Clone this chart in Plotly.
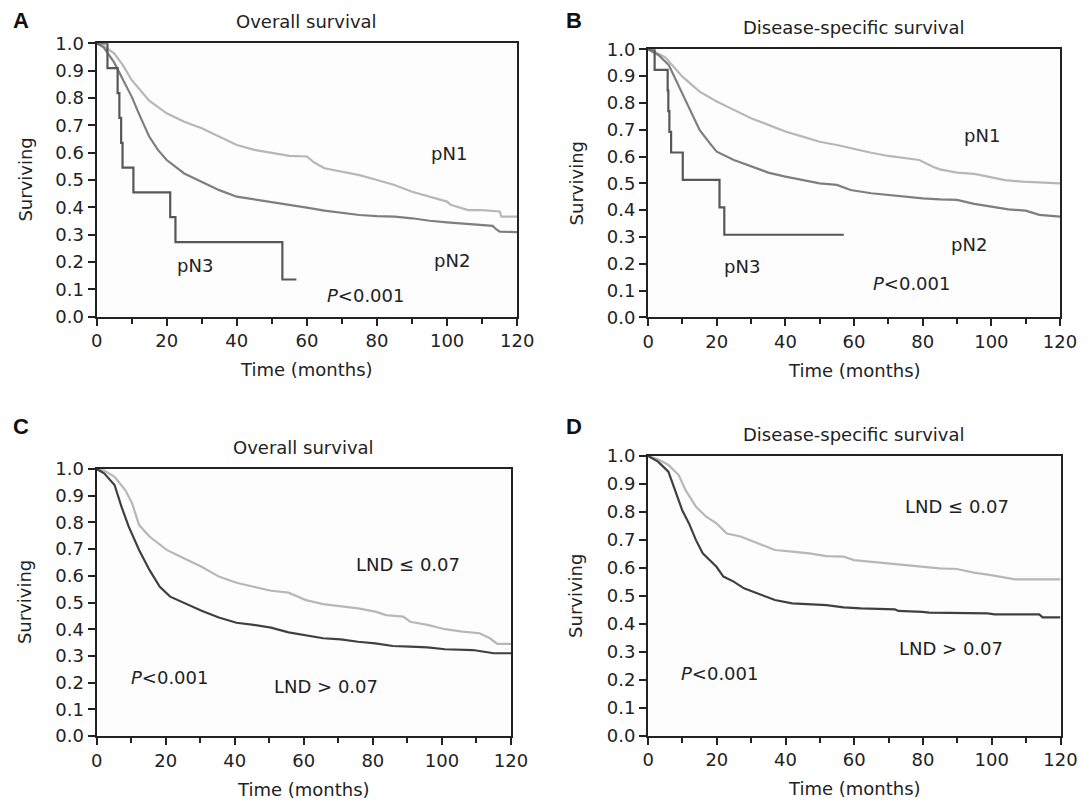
import plotly.graph_objects as go

# ---------------- DATA ----------------
# Panel A: Overall survival by pN stage
a_pn1_t = [0, 2, 5, 7.5, 10, 12.5, 15, 20, 25, 30, 35, 40, 45, 50, 55, 60, 62, 65, 70, 75, 80, 85, 90, 95, 100, 101, 106, 110, 115, 115.5, 120]
a_pn1_s = [1.0, 0.99, 0.963, 0.92, 0.866, 0.83, 0.79, 0.744, 0.713, 0.689, 0.659, 0.628, 0.61, 0.598, 0.588, 0.586, 0.565, 0.543, 0.53, 0.518, 0.5, 0.482, 0.457, 0.439, 0.421, 0.409, 0.39, 0.39, 0.385, 0.366, 0.366]
a_pn2_t = [0, 2, 5, 7.5, 10, 12.5, 15, 17.5, 20, 25, 30, 35, 40, 45, 50, 55, 60, 65, 70, 75, 80, 85, 90, 95, 100, 105, 113, 114, 115, 120]
a_pn2_s = [1.0, 0.985, 0.93, 0.87, 0.805, 0.73, 0.659, 0.61, 0.573, 0.524, 0.494, 0.463, 0.439, 0.429, 0.421, 0.409, 0.399, 0.388, 0.38, 0.372, 0.368, 0.366, 0.36, 0.351, 0.345, 0.341, 0.332, 0.32, 0.311, 0.309]
a_pn3_t = [0, 3.1, 6.0, 6.5, 7.0, 7.4, 10.5, 21.0, 22.5, 53.0, 57.0]
a_pn3_s = [1.0, 0.909, 0.818, 0.727, 0.636, 0.545, 0.455, 0.364, 0.273, 0.136, 0.136]

# Panel B: Disease-specific survival by pN stage
b_pn1_t = [0, 2, 5, 10, 15, 20, 25, 30, 35, 40, 45, 50, 55, 60, 65, 70, 75, 79, 83, 85, 90, 95, 99, 104, 109, 120]
b_pn1_s = [1.0, 0.99, 0.97, 0.898, 0.842, 0.805, 0.774, 0.743, 0.718, 0.693, 0.674, 0.655, 0.643, 0.628, 0.614, 0.602, 0.593, 0.587, 0.562, 0.552, 0.54, 0.535, 0.525, 0.512, 0.506, 0.5]
b_pn2_t = [0, 3, 6, 9, 12, 15, 18, 20, 25, 30, 35, 40, 45, 50, 55, 59, 65, 70, 75, 80, 85, 90, 95, 100, 105, 110, 114, 120]
b_pn2_s = [1.0, 0.979, 0.942, 0.861, 0.774, 0.699, 0.649, 0.618, 0.587, 0.562, 0.54, 0.525, 0.512, 0.5, 0.494, 0.475, 0.463, 0.456, 0.45, 0.444, 0.44, 0.438, 0.423, 0.413, 0.403, 0.398, 0.382, 0.376]
b_pn3_t = [0, 1.9, 5.7, 5.9, 6.2, 6.7, 10.1, 20.8, 22.2, 57.0]
b_pn3_s = [1.0, 0.923, 0.846, 0.769, 0.692, 0.615, 0.513, 0.41, 0.308, 0.308]

# Panel C: Overall survival by LND
c_low_t = [0, 2.2, 5.2, 8.3, 10.3, 12.3, 15.3, 20.3, 25.4, 30.4, 35.4, 40.5, 45.5, 50.5, 55.6, 60.6, 65.6, 70.7, 75.7, 80.7, 83.8, 88.8, 90.8, 95.8, 100.9, 105.9, 110.9, 113.9, 116, 120]
c_low_s = [1.0, 0.994, 0.971, 0.921, 0.871, 0.79, 0.747, 0.697, 0.665, 0.634, 0.597, 0.574, 0.559, 0.544, 0.537, 0.509, 0.494, 0.487, 0.478, 0.466, 0.453, 0.447, 0.428, 0.416, 0.4, 0.391, 0.385, 0.366, 0.345, 0.345]
c_high_t = [0, 2.2, 5.2, 7.2, 9.3, 12.3, 15.3, 18.3, 21.3, 25.4, 30.4, 35.4, 40.5, 45.5, 50.5, 55.6, 60.6, 65.6, 70.7, 75.7, 80.7, 85.8, 90.8, 95.8, 100.9, 109, 115, 120]
c_high_s = [1.0, 0.984, 0.94, 0.859, 0.784, 0.697, 0.622, 0.559, 0.522, 0.497, 0.469, 0.444, 0.424, 0.416, 0.406, 0.388, 0.378, 0.366, 0.362, 0.353, 0.347, 0.337, 0.335, 0.332, 0.325, 0.322, 0.31, 0.31]

# Panel D: Disease-specific survival by LND
d_low_t = [0, 2.9, 5.9, 8.9, 10.9, 13.9, 16.9, 19.9, 22.9, 26.9, 31.9, 36.9, 41.9, 46.9, 51.9, 56.9, 59.9, 64.8, 69.8, 74.8, 79.8, 84.8, 89.8, 94.8, 99.8, 104.8, 106.8, 120]
d_low_s = [1.0, 0.988, 0.968, 0.932, 0.878, 0.819, 0.783, 0.759, 0.723, 0.712, 0.688, 0.664, 0.658, 0.652, 0.642, 0.64, 0.628, 0.622, 0.616, 0.61, 0.604, 0.598, 0.596, 0.583, 0.574, 0.563, 0.559, 0.559]
d_high_t = [0, 2.9, 5.9, 7.9, 9.9, 11.9, 13.9, 15.9, 17.9, 19.9, 21.9, 24.9, 27.9, 31.9, 36.9, 41.9, 46.9, 51.9, 56.9, 61.9, 71.8, 72.8, 79.8, 81.8, 98.8, 100.8, 113.8, 114.8, 120]
d_high_s = [1.0, 0.98, 0.944, 0.878, 0.807, 0.759, 0.7, 0.652, 0.628, 0.604, 0.569, 0.551, 0.527, 0.509, 0.485, 0.473, 0.471, 0.467, 0.459, 0.455, 0.452, 0.446, 0.443, 0.44, 0.437, 0.434, 0.434, 0.423, 0.423]

panel_titles = ["Overall survival", "Disease-specific survival", "Overall survival", "Disease-specific survival"]
panel_letters = ["A", "B", "C", "D"]
x_ticks = [0, 20, 40, 60, 80, 100, 120]
y_ticks = [0.0, 0.1, 0.2, 0.3, 0.4, 0.5, 0.6, 0.7, 0.8, 0.9, 1.0]

# ---------------- LAYOUT GEOMETRY (pixels) ----------------
W, H = 1087, 804
OFF = 8  # page body margin offset compensation
FONT = "DejaVu Sans, Liberation Sans, Arial, sans-serif"
TXT = "#222222"
LIGHT, MID, DARK, DARKER = "#b7b7b7", "#7e7e7e", "#575757", "#404040"


def px_x(x):
    return (x - OFF) / W


def px_y(y):
    return 1 - (y - OFF) / H


# plot boxes: left, right, top, bottom (px, in the final picture)
boxes = [(96.6, 517.2, 43.3, 316.7), (648.1, 1060.0, 49.3, 317.3),
         (96.6, 511.0, 469.0, 736.0), (648.1, 1060.5, 456.0, 735.7)]

fig = go.Figure()

series = [
    (1, a_pn1_t, a_pn1_s, LIGHT, "linear"), (1, a_pn2_t, a_pn2_s, MID, "linear"), (1, a_pn3_t, a_pn3_s, DARK, "hv"),
    (2, b_pn1_t, b_pn1_s, LIGHT, "linear"), (2, b_pn2_t, b_pn2_s, MID, "linear"), (2, b_pn3_t, b_pn3_s, DARK, "hv"),
    (3, c_low_t, c_low_s, LIGHT, "linear"), (3, c_high_t, c_high_s, DARKER, "linear"),
    (4, d_low_t, d_low_s, LIGHT, "linear"), (4, d_high_t, d_high_s, DARKER, "linear"),
]
for k, t, s, col, shape in series:
    sfx = "" if k == 1 else str(k)
    fig.add_trace(go.Scatter(x=t, y=s, mode="lines", line=dict(color=col, width=2.2, shape=shape),
                             xaxis="x" + sfx, yaxis="y" + sfx, showlegend=False, hoverinfo="skip"))

layout = dict(template="none", width=W, height=H,
              margin=dict(l=0, r=0, t=0, b=0, pad=0, autoexpand=False),
              paper_bgcolor="white", plot_bgcolor="#fdfdfd",
              font=dict(family=FONT, size=18, color=TXT), showlegend=False)

annotations = []
for i, (l, r, t, b) in enumerate(boxes):
    k = i + 1
    sfx = "" if k == 1 else str(k)
    layout["xaxis" + sfx] = dict(domain=[px_x(l), px_x(r)], range=[0, 120], anchor="y" + sfx, automargin=False,
                                 tickmode="array", tickvals=x_ticks, ticks="outside", ticklen=7,
                                 tickwidth=2, tickcolor="#222", showline=True, linewidth=2, linecolor="#222",
                                 mirror=True, showgrid=False, zeroline=False,
                                 tickfont=dict(size=18, color=TXT),
                                 minor=dict(tickmode="array", tickvals=[10, 30, 50, 70, 90, 110],
                                            ticks="outside", ticklen=5, tickwidth=2, tickcolor="#222",
                                            showgrid=False))
    layout["yaxis" + sfx] = dict(domain=[px_y(b), px_y(t)], range=[0, 1.0], anchor="x" + sfx,
                                 automargin=False,
                                 tickmode="array", tickvals=y_ticks, tickformat=".1f", ticks="outside",
                                 ticklen=7, tickwidth=2, tickcolor="#222", showline=True, linewidth=2,
                                 linecolor="#222", mirror=True, showgrid=False, zeroline=False,
                                 tickfont=dict(size=18, color=TXT))
    cx = px_x((l + r) / 2)
    # panel title
    annotations.append(dict(text=panel_titles[i], x=cx, y=px_y(t - 22), xref="paper", yref="paper",
                            showarrow=False, font=dict(size=18, color=TXT), xanchor="center", yanchor="middle"))
    # x-axis title
    annotations.append(dict(text="Time (months)", x=cx, y=px_y(b + 53), xref="paper", yref="paper",
                            showarrow=False, font=dict(size=18, color=TXT), xanchor="center", yanchor="middle"))
    # y-axis title
    annotations.append(dict(text="Surviving", x=px_x(l - 72), y=px_y((t + b) / 2), xref="paper", yref="paper",
                            showarrow=False, textangle=-90, font=dict(size=18, color=TXT),
                            xanchor="center", yanchor="middle"))

letter_pos = [(11, 21), (564, 21), (11, 426), (564, 426)]
for (lx, ly), letter in zip(letter_pos, panel_letters):
    annotations.append(dict(text="<b>" + letter + "</b>", x=px_x(lx), y=px_y(ly), xref="paper", yref="paper",
                            showarrow=False, font=dict(family="Liberation Sans, Arial, sans-serif", size=22, color="#111"),
                            xanchor="left", yanchor="middle"))

# in-plot labels (data coordinates)
labels = [
    (1, "pN1", 100.6, 0.598), (1, "pN2", 101.4, 0.207), (1, "pN3", 28.0, 0.189), (1, "<i>P</i>&lt;0.001", 76.6, 0.079),
    (2, "pN1", 97.4, 0.680), (2, "pN2", 93.6, 0.270), (2, "pN3", 27.3, 0.189), (2, "<i>P</i>&lt;0.001", 76.6, 0.127),
    (3, "LND ≤ 0.07", 90.3, 0.644), (3, "LND &gt; 0.07", 66.3, 0.187), (3, "<i>P</i>&lt;0.001", 21.0, 0.22),
    (4, "LND ≤ 0.07", 89.8, 0.819), (4, "LND &gt; 0.07", 88.2, 0.312), (4, "<i>P</i>&lt;0.001", 20.8, 0.223),
]
for k, txt, x, y in labels:
    sfx = "" if k == 1 else str(k)
    annotations.append(dict(text=txt, x=x, y=y, xref="x" + sfx, yref="y" + sfx, showarrow=False,
                            font=dict(size=18, color=TXT), xanchor="center", yanchor="middle"))

layout["annotations"] = annotations
fig.update_layout(**layout)
fig.write_html("out.html")
